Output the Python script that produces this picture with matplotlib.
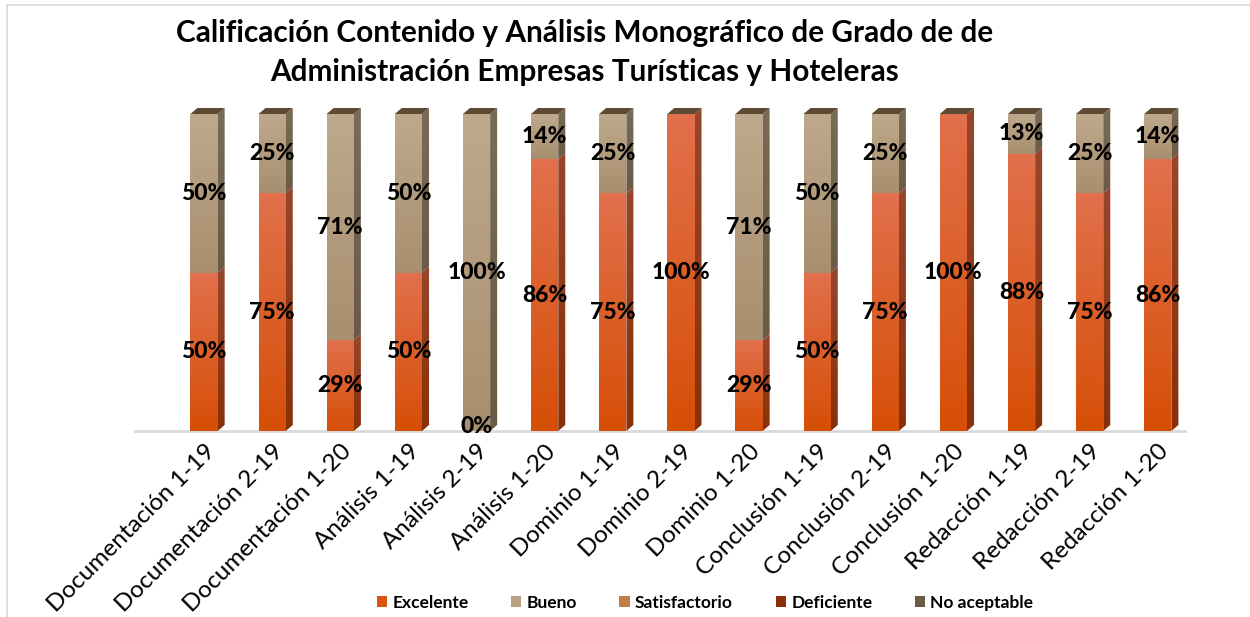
import numpy as np
import matplotlib
matplotlib.use("Agg")
import matplotlib.pyplot as plt
from matplotlib.colors import LinearSegmentedColormap
from matplotlib.patches import Polygon, Patch
from matplotlib.lines import Line2D

plt.rcParams['font.family'] = ['Lato', 'DejaVu Sans']

categories = ["Documentación 1-19", "Documentación 2-19", "Documentación 1-20",
              "Análisis 1-19", "Análisis 2-19", "Análisis 1-20",
              "Dominio 1-19", "Dominio 2-19", "Dominio 1-20",
              "Conclusión 1-19", "Conclusión 2-19", "Conclusión 1-20",
              "Redacción 1-19", "Redacción 2-19", "Redacción 1-20"]
excelente = [50, 75, 28.6, 50, 0, 85.7, 75, 100, 28.6, 50, 75, 100, 87.5, 75, 85.7]
bueno = [50, 25, 71.4, 50, 100, 14.3, 25, 0, 71.4, 50, 25, 0, 12.5, 25, 14.3]
series_names = ["Excelente", "Bueno", "Satisfactorio", "Deficiente", "No aceptable"]
title_lines = ["Calificación Contenido y Análisis Monográfico de Grado de de",
               "Administración Empresas Turísticas y Hoteleras"]

# colours
EXC_TOP, EXC_BOT = "#E2704C", "#D64F07"
EXC_SIDE_TOP, EXC_SIDE_BOT = "#97462B", "#893008"
BUE_TOP, BUE_BOT = "#BEA98C", "#A88F6F"
BUE_SIDE_TOP, BUE_SIDE_BOT = "#7A6B56", "#6A5A46"
TOP_FACE = "#5C4A33"
legend_colors = ["#DA5410", "#B9A283", "#C07E48", "#8A2E0C", "#6C5B45"]

fig = plt.figure(figsize=(12.5, 6.17), dpi=100)
ax = fig.add_axes([135/1250, 1-431/617, 1050/1250, 336/617])
XMIN, XMAX = -1.013, 14.40
YMAX = 106.0
W = 0.40      # front face width
DX = 0.103    # depth offset x
DY = 1.9      # depth offset y


def grad_poly(ax, verts, c_top, c_bot, z):
    verts = np.asarray(verts)
    x0, x1 = verts[:, 0].min(), verts[:, 0].max()
    y0, y1 = verts[:, 1].min(), verts[:, 1].max()
    if y1 - y0 <= 0:
        return
    cmap = LinearSegmentedColormap.from_list("g", [c_bot, c_top])
    im = ax.imshow(np.linspace(0, 1, 64).reshape(-1, 1), extent=[x0, x1, y0, y1],
                   origin="lower", cmap=cmap, aspect="auto", zorder=z,
                   interpolation="bilinear")
    poly = Polygon(verts, closed=True, facecolor="none", edgecolor="none",
                   transform=ax.transData)
    ax.add_patch(poly)
    im.set_clip_path(poly)


def segment(ax, xc, y0, y1, front, side, z):
    if y1 <= y0:
        return
    xl, xr = xc - W/2, xc + W/2
    grad_poly(ax, [(xl, y0), (xr, y0), (xr, y1), (xl, y1)], front[0], front[1], z)
    grad_poly(ax, [(xr, y0), (xr + DX, y0 + DY), (xr + DX, y1 + DY), (xr, y1)],
              side[0], side[1], z)


x = np.arange(len(categories))
for i in x:
    e, b = excelente[i], bueno[i]
    segment(ax, i, 0, e, (EXC_TOP, EXC_BOT), (EXC_SIDE_TOP, EXC_SIDE_BOT), 3)
    segment(ax, i, e, e + b, (BUE_TOP, BUE_BOT), (BUE_SIDE_TOP, BUE_SIDE_BOT), 3)
    top = e + b
    ax.add_patch(Polygon([(i - W/2, top), (i + W/2, top), (i + W/2 + DX, top + DY),
                          (i - W/2 + DX, top + DY)], closed=True,
                         facecolor=TOP_FACE, edgecolor="none", zorder=4))
    lab_kw = dict(ha="center", va="center", fontsize=16.5, fontweight="black",
                  color="black", zorder=6)
    ax.text(i, max(e / 2, 1.5), f"{int(e + 0.5)}%", **lab_kw)
    if b > 0:
        ax.text(i, e + b / 2, f"{int(b + 0.5)}%", **lab_kw)

ax.set_xlim(XMIN, XMAX)
ax.set_ylim(0, YMAX)
for s in ["top", "right", "left"]:
    ax.spines[s].set_visible(False)
ax.spines["bottom"].set_color("#D9D9D9")
ax.spines["bottom"].set_linewidth(2)
ax.set_yticks([])
ax.set_xticks(x)
ax.set_xticklabels(categories, rotation=45, ha="right", rotation_mode="anchor",
                   fontsize=17.5)
ax.tick_params(axis="x", length=0, pad=7)

fig.text(585/1250, 1-33/617, title_lines[0], ha="center", va="center",
         fontsize=21.4, fontweight="bold")
fig.text(585/1250, 1-72/617, title_lines[1], ha="center", va="center",
         fontsize=21.4, fontweight="bold")

handles = [Patch(facecolor=c, edgecolor="none") for c in legend_colors]
fig.legend(handles, series_names, loc="center", bbox_to_anchor=(705/1250, 1-603/617),
           ncol=5, frameon=False, prop=dict(weight="bold", size=12.5),
           handlelength=0.6, handleheight=0.6, handletextpad=0.3, columnspacing=2.45)

# chart border
fig.add_artist(Line2D([7/1250, 7/1250], [0, 1-5/617], color="#D9D9D9", lw=1.2))
fig.add_artist(Line2D([7/1250, 1], [1-5/617, 1-5/617], color="#D9D9D9", lw=1.2))

fig.savefig("out.png", dpi=100)
